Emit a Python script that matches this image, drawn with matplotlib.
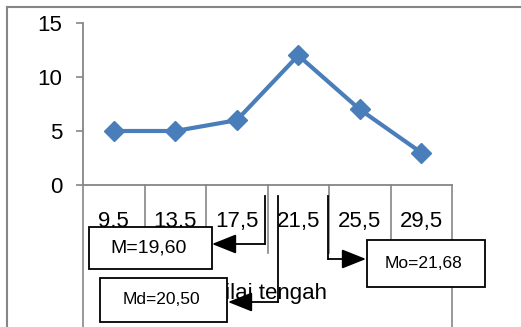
import matplotlib
matplotlib.use("Agg")
from matplotlib import pyplot as plt
from matplotlib.patches import Rectangle

plt.rcParams['font.family'] = ['Liberation Sans', 'DejaVu Sans']

# data
nilai_tengah = ["9,5", "13,5", "17,5", "21,5", "25,5", "29,5"]
frekuensi = [5, 5, 6, 12, 7, 3]
y_ticks = [0, 5, 10, 15]

# annotation box labels
mean_label = "M=19,60"
median_label = "Md=20,50"
mode_label = "Mo=21,68"

W, H = 521, 327
gray = "#868686"
blue = "#4A7EBB"

fig = plt.figure(figsize=(W / 100, H / 100), dpi=100)


def fx(px):
    return px / W


def fy(py):
    return 1 - py / H


# main axes: x from 83..452 px, y from 23..185 px
ax = fig.add_axes([fx(83), fy(185), fx(452) - fx(83), (185 - 23) / H])
x = list(range(len(nilai_tengah)))
ax.plot(x, frekuensi, color=blue, linewidth=3, marker="D", markersize=10,
        markeredgecolor=blue, markerfacecolor=blue, solid_joinstyle="miter")
ax.set_xlim(-0.5, len(nilai_tengah) - 0.5)
ax.set_ylim(0, 15)
ax.set_yticks(y_ticks)
ax.set_yticklabels([str(v) for v in y_ticks], fontsize=16)
ax.set_xticks(x)
ax.set_xticklabels(nilai_tengah, fontsize=16)
ax.tick_params(axis="y", length=5, width=1.2, color=gray, pad=10)
ax.tick_params(axis="x", length=0, pad=19)
for s in ["top", "right"]:
    ax.spines[s].set_visible(False)
for s in ["left", "bottom"]:
    ax.spines[s].set_color(gray)
    ax.spines[s].set_linewidth(1.3)

# long category divider lines under the x axis
ax_h = 185 - 23
for i in range(len(nilai_tengah) + 1):
    xb = i - 0.5
    low = 327 if i in (0, len(nilai_tengah)) else 253
    ax.plot([xb, xb], [0, -(low - 185) / ax_h], color=gray, linewidth=1.2,
            transform=ax.get_xaxis_transform(), clip_on=False)

# overlay in pixel coords for frame, title, boxes and arrows
ov = fig.add_axes([0, 0, 1, 1], zorder=5)
ov.set_xlim(0, W)
ov.set_ylim(H, 0)
ov.axis("off")
ov.patch.set_alpha(0)

# outer chart frame (left and top only visible)
ov.plot([7, 7], [H, 7], color=gray, linewidth=1.5)
ov.plot([7, W], [7, 7], color=gray, linewidth=1.5)

# axis title, partly hidden by the Md box
ov.text(327, 299, "Nilai tengah", fontsize=16, ha="right", va="baseline")


def box(x0, y0, x1, y1, label, size):
    ov.add_patch(Rectangle((x0, y0), x1 - x0, y1 - y0, facecolor="white",
                           edgecolor="black", linewidth=1.3, zorder=3))
    ov.text((x0 + x1) / 2 - 2, (y0 + y1) / 2, label, fontsize=size,
            ha="center", va="center", zorder=4)


def elbow(xv, y_top, y_turn, x_end):
    ov.plot([xv, xv], [y_top, y_turn], color="black", linewidth=1.3, zorder=4)
    ov.annotate("", xy=(x_end, y_turn), xytext=(xv, y_turn),
                arrowprops=dict(arrowstyle="-|>,head_length=0.75,head_width=0.3",
                                color="black", lw=1.3, mutation_scale=20,
                                shrinkA=0, shrinkB=0),
                zorder=4)


box(89, 227, 212, 269, mean_label, 14)
box(100, 278, 227, 322, median_label, 12.5)
box(367, 240, 485, 287, mode_label, 12.5)

elbow(265, 196, 244, 212)
elbow(278, 196, 302, 228)
elbow(328, 196, 259, 366)

fig.savefig("out.png", dpi=100)
